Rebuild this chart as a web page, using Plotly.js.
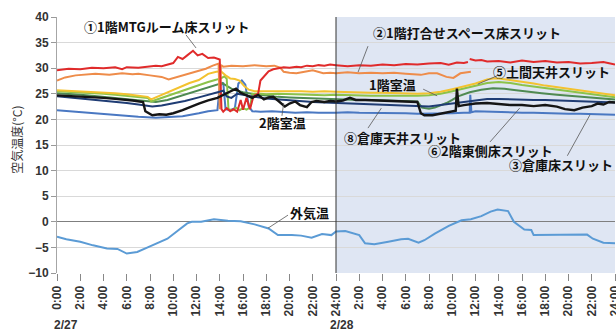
<!DOCTYPE html>
<html>
<head>
<meta charset="utf-8">
<script src="https://cdn.plot.ly/plotly-3.0.1.min.js"></script>
<style>
  html, body { margin: 0; padding: 0; background: #ffffff; }
  #chart { width: 616px; height: 332px; }
</style>
</head>
<body>
<div id="chart"></div>
<script>
// Time axis: hours counted from 2/27 0:00 (0–48 h)
const tickHours = [0,2,4,6,8,10,12,14,16,18,20,22,24,26,28,30,32,34,36,38,40,42,44,46,48];
const tickLabels = ['0:00','2:00','4:00','6:00','8:00','10:00','12:00','14:00','16:00','18:00','20:00','22:00','24:00',
                    '2:00','4:00','6:00','8:00','10:00','12:00','14:00','16:00','18:00','20:00','22:00','24:00'];
const dayLabels = ['2/27', '2/28'];

// ① 1階MTGルーム床スリット
const redHours = [0,1,2,3,4,5,5.6,6,7,8,8.5,9,9.5,10,10.4,10.8,11.2,11.7,12.1,12.5,13,13.5,14,14.15,14.3,14.6,14.9,15.2,15.5,15.8,16,16.3,16.6,16.9,17.1,17.3,17.5,17.8,18.2,18.6,19,19.5,20,20.6,21,21.5,22,22.5,23,23.5,24,25,26,27,28,29,30,31,32,33,33.7,34.4,35,35.35,35.42,35.5,36,36.5,37,38,39,40,41,42,43,44,45,46,47,48];
const redTemps = [29.6,29.9,29.8,30.1,30.0,30.2,29.8,30.2,30.1,30.3,30.5,30.4,30.7,31.0,32.2,31.8,32.5,33.4,32.5,32.8,32.0,32.1,31.7,22.0,21.5,22.2,21.6,22.0,21.5,23.8,21.9,24.2,22.0,24.5,24.8,25.0,27.6,28.3,29.4,29.8,30.0,30.2,30.1,30.3,30.2,30.5,30.4,30.6,30.5,30.7,30.6,30.4,30.6,30.5,30.7,30.6,30.8,30.7,30.9,31.0,30.7,31.1,31.0,31.2,null,31.8,31.5,31.6,31.3,31.4,31.1,31.5,31.2,31.4,31.1,31.2,30.9,31.0,31.2,30.7];

// ② 1階打合せスペース床スリット
const orangeHours = [0,0.7,1.6,2.5,3.3,4.5,5.6,6.5,7,8,8.5,9,9.6,10.5,11.4,12.2,12.8,13.4,13.9,14.0,14.1,14.3,15,16,17,18,18.7,19.2,19.5,20,20.6,21.3,22,22.9,23.5,24,25,26,27,28,29,30,31.3,32,32.7,33.5,34.1,34.7,35.2,35.6];
const orangeTemps = [27.6,28.2,28.6,28.8,28.9,28.7,29.0,28.8,28.9,28.6,28.4,28.3,27.8,28.4,28.9,29.5,29.9,30.5,30.9,22.0,30.6,30.3,30.5,30.4,30.6,30.4,30.5,30.1,29.3,29.1,29.0,29.3,29.6,29.0,29.1,29.0,29.2,29.0,29.1,29.0,29.1,28.9,28.7,29.0,29.0,28.3,28.1,29.0,29.2,29.3];

// ⑤ 土間天井スリット
const yellowHours = [0,1,2,3,4,5,6,7,7.8,8.1,8.5,9,9.5,10,10.5,11,11.4,12.2,12.6,13,13.7,14.1,14.5,14.9,15.3,15.7,16.1,16.5,17,18,19,20,21,22,23,24,25,26,27,28,29,30,31,32,33,34,35,36,37,37.5,38,39,40,41,42,43,44,45,46,47,48];
const yellowTemps = [25.7,25.6,25.5,25.4,25.2,25.1,24.9,24.6,24.4,23.9,24.3,24.8,25.3,25.7,26.2,26.7,27.1,27.7,28.3,28.9,29.3,29.4,28.6,28.0,27.9,27.6,26.5,25.8,25.5,25.5,25.6,25.5,25.5,25.4,25.5,25.4,25.3,25.3,25.2,25.2,25.1,25.0,25.0,25.1,25.4,25.9,26.4,27.0,27.8,28.0,28.0,27.7,27.4,27.0,26.6,26.3,26.0,25.7,25.4,25.0,24.7];

// 1階室温
const lightGreenHours = [0,1,2,3,4,5,6,7,7.8,8.1,8.6,9.4,10,10.8,11.5,12.2,13,13.6,14.1,14.4,14.6,14.75,15.1,15.4,15.7,16,16.3,16.6,16.8,17.5,18,19,20,21,22,23,24,25,26,27,28,29,30,31,32,33,34,35,36,37,38,39,40,41,42,43,44,45,46,47,48];
const lightGreenTemps = [25.5,25.4,25.3,25.1,25.0,24.8,24.6,24.4,24.2,23.5,23.9,24.4,24.9,25.6,26.1,26.7,27.3,27.7,28.0,28.4,27.9,22.0,21.8,22.3,21.8,22.2,21.9,22.3,25.0,25.0,24.9,25.0,24.9,24.8,24.8,24.7,24.8,24.7,24.7,24.6,24.6,24.6,24.5,24.6,24.7,25.0,25.5,26.0,26.5,27.1,27.3,27.1,26.7,26.4,26.0,25.7,25.4,25.1,24.8,24.5,24.3];

// ⑥ 2階東側床スリット
const darkGreenHours = [0,1,2,3,4,5,6,7,7.9,8.5,9.5,10.5,11.5,12.5,13.5,14.2,14.5,15,15.5,16,17,18,19,20,21,22,23,24,25,26,27,28,29,30,31,31.4,32,32.5,33,33.5,34,34.5,35.5,36.5,37.5,38.5,39.5,40.5,41.7,43,44.5,46,47,48];
const darkGreenTemps = [25.1,25.0,24.8,24.6,24.4,24.2,24.0,23.8,23.5,23.4,23.8,24.5,25.2,25.9,26.5,27.1,26.7,26.0,25.6,25.3,24.9,24.6,24.4,24.3,24.2,24.1,24.0,24.0,23.9,23.8,23.8,23.7,23.7,23.6,23.5,22.3,22.1,22.3,22.7,23.2,23.8,24.5,25.3,25.8,26.1,26.0,25.7,25.4,25.1,24.8,24.5,24.2,24.0,23.9];

// ⑧ 倉庫天井スリット
const navyHours = [0,1,2,3,4,5,6,7,8.2,9,10,11,12.2,13,14,14.3,14.6,15,15.5,16,16.5,17,18,19,20,21,22,23,24,25,26,27,28,29,30,31,32,33,34,35,36,37,38,39,40,41,42,43,44,45,46,47,48];
const navyTemps = [24.5,24.3,24.1,23.9,23.7,23.5,23.2,22.9,22.5,22.7,23.1,23.6,24.3,24.8,25.3,25.6,24.5,24.2,25.0,24.8,24.5,24.4,24.1,23.9,23.7,23.5,23.4,23.3,23.2,23.1,23.0,22.9,22.8,22.8,22.7,22.6,22.5,22.8,23.1,23.5,23.8,24.0,24.0,23.9,23.9,23.8,23.8,23.7,23.6,23.5,23.4,23.4,23.3];

// 2階室温
const blackHours = [0,1,2,2.7,4,5,5.6,6.5,7.4,7.6,8.2,8.8,9.4,10,10.8,11.3,12.2,13,13.8,14.5,15,15.4,15.8,16.3,16.8,17.3,17.8,18.2,18.6,19.1,19.6,20,20.5,20.9,21.5,21.9,22.3,23,23.5,24,24.6,25.2,25.7,26.5,27.5,28.5,29.5,30.5,31,31.3,31.6,32.3,33,33.9,34.3,34.4,34.55,35,36,37,38,39,40,41,42,43,43.7,44.5,45.2,46,46.5,47,47.5,48];
const blackTemps = [24.7,24.6,24.5,24.4,24.2,24.0,23.9,23.7,23.4,21.6,20.8,21.0,20.9,21.2,21.8,22.3,23.1,23.7,24.2,25.0,25.5,26.0,25.2,24.7,24.2,24.8,23.9,24.3,24.4,23.5,22.5,23.1,23.5,22.8,22.4,23.4,23.6,23.4,23.6,23.5,23.7,24.2,23.8,23.8,23.7,23.6,23.6,23.5,23.4,21.2,20.8,20.8,21.1,21.5,21.7,26.0,22.6,22.8,23.1,23.2,23.0,22.8,22.8,22.6,22.8,22.5,22.0,21.8,22.3,22.6,23.1,22.9,23.4,23.3];

// ③ 倉庫床スリット
const blueHours = [0,1,2,3,4,5,6,7,8.5,9.5,10.8,12.2,13,13.8,14,14.3,14.5,14.9,15.3,15.6,15.9,16.2,16.5,16.8,17.5,18.5,19.5,20.5,21.5,22.5,24,25,26,27,28,29,30,31,32,33,34,35,35.5,35.55,35.65,36,37,38,39,40,41,42,43,44,45,46,47,48];
const blueTemps = [21.8,21.6,21.5,21.3,21.1,20.9,20.7,20.5,20.3,20.4,20.6,21.2,21.6,21.8,26.5,27.2,22.0,21.8,22.2,27.0,27.6,26.8,22.5,21.6,21.5,21.6,21.4,21.3,21.4,21.3,21.3,21.4,21.3,21.3,21.2,21.2,21.2,21.1,21.1,21.1,21.2,21.3,21.3,24.8,21.4,21.6,21.5,21.4,21.4,21.3,21.3,21.2,21.2,21.1,21.1,21.0,21.0,20.9];

// 外気温
const outdoorHours = [0,0.8,2,3.1,4.3,5.2,6.0,6.9,7.8,8.6,9.5,10.3,11.2,11.6,12.4,13.5,14.7,15.8,17,18.2,19,20.2,21,21.9,22.8,23.6,24,24.8,26,26.5,27.3,28.5,29.6,30.2,31.1,31.6,32.5,33.7,34.8,35.6,36.5,37.3,37.9,38.8,39.3,40.2,40.8,41,42.5,43.9,45.6,46.1,47,48];
const outdoorTemps = [-2.9,-3.4,-3.9,-4.6,-5.2,-5.3,-6.2,-5.9,-5.0,-4.2,-3.3,-1.9,-0.3,0,0,0.5,0.2,0.1,-0.5,-1.3,-2.6,-2.6,-2.7,-3.1,-2.4,-2.6,-1.9,-1.8,-2.6,-4.2,-4.4,-3.9,-3.4,-3.3,-4.1,-3.6,-2.3,-0.8,0.3,0.5,1.1,2.0,2.4,2.1,0,-1.5,-1.6,-2.6,-2.6,-2.5,-2.5,-3.3,-4.1,-4.2];

// Series drawing order (back to front) and styling
const seriesList = [
  { name: '外気温', x: outdoorHours, y: outdoorTemps, color: '#5b9bd5', width: 2 },
  { name: '③倉庫床スリット', x: blueHours, y: blueTemps, color: '#4a78c2', width: 2 },
  { name: '⑥2階東側床スリット', x: darkGreenHours, y: darkGreenTemps, color: '#4f8a52', width: 2 },
  { name: '1階室温', x: lightGreenHours, y: lightGreenTemps, color: '#8cc34a', width: 2 },
  { name: '⑤土間天井スリット', x: yellowHours, y: yellowTemps, color: '#f3c22f', width: 2 },
  { name: '②1階打合せスペース床スリット', x: orangeHours, y: orangeTemps, color: '#ee8c4a', width: 2 },
  { name: '①1階MTGルーム床スリット', x: redHours, y: redTemps, color: '#e02b2b', width: 2 },
  { name: '⑧倉庫天井スリット', x: navyHours, y: navyTemps, color: '#1f3c74', width: 2 },
  { name: '2階室温', x: blackHours, y: blackTemps, color: '#151515', width: 2.4 }
];

const traces = seriesList.map(s => ({
  type: 'scatter', mode: 'lines', name: s.name,
  x: s.x, y: s.y, connectgaps: false,
  line: { color: s.color, width: s.width, shape: 'linear' },
  hoverinfo: 'skip'
}));

// Callout labels: text centre and leader line (from, to) in axis units
const callouts = [
  { text: '①1階MTGルーム床スリット', at: [9.46, 38.05], from: [11.1, 36.5], to: [11.96, 33.95] },
  { text: '②1階打合せスペース床スリット', at: [35.27, 36.88], from: [26.75, 34.3], to: [25.9, 29.25] },
  { text: '1階室温', at: [28.9, 26.9], from: [31.5, 25.9], to: [32.7, 24.6] },
  { text: '⑤土間天井スリット', at: [42.5, 29.26], from: [37.85, 28.5], to: [36.2, 26.9] },
  { text: '2階室温', at: [19.44, 19.3], from: [19.35, 20.7], to: [19.5, 23.2] },
  { text: '⑧倉庫天井スリット', at: [29.68, 16.56], from: [26.75, 18.3], to: [27.9, 22.2] },
  { text: '⑥2階東側床スリット', at: [37.25, 14.0], from: [37.25, 15.6], to: [39.8, 22.2] },
  { text: '③倉庫床スリット', at: [43.35, 11.1], from: [43.9, 12.9], to: [45.85, 20.9] },
  { text: '外気温', at: [21.76, 1.72], from: [19.87, 1.3], to: [18.15, -1.25] }
];

const labelFont = { family: '"Noto Sans CJK JP", "Noto Sans", sans-serif', size: 13, color: '#111111', weight: 'bold' };
const tickFont = { family: '"Liberation Sans", Arial, sans-serif', size: 12, color: '#333333', weight: 'bold' };

const annotations = callouts.map(c => ({
  text: c.text, x: c.at[0], y: c.at[1], xref: 'x', yref: 'y',
  xanchor: 'center', yanchor: 'middle', showarrow: false, font: labelFont
}));

annotations.push(
  { text: dayLabels[0], x: -0.009, y: -0.203, xref: 'paper', yref: 'paper', xanchor: 'left', yanchor: 'middle',
    showarrow: false, font: tickFont },
  { text: dayLabels[1], x: 0.486, y: -0.203, xref: 'paper', yref: 'paper', xanchor: 'left', yanchor: 'middle',
    showarrow: false, font: tickFont },
  { text: '空気温度(°C)', x: -0.072, y: 0.52, xref: 'paper', yref: 'paper', xanchor: 'center', yanchor: 'middle',
    textangle: -90, showarrow: false,
    font: { family: '"Noto Sans CJK JP", sans-serif', size: 12, color: '#333333' } }
);

const shapes = [
  // shaded second day
  { type: 'rect', xref: 'x', yref: 'y', x0: 24, x1: 48, y0: -10, y1: 40.4,
    fillcolor: '#dfe6f3', line: { width: 0 }, layer: 'below' },
  // day divider
  { type: 'line', xref: 'x', yref: 'y', x0: 24, x1: 24, y0: -10, y1: 40.4,
    line: { color: '#333333', width: 1 }, layer: 'above' }
];
callouts.forEach(c => shapes.push({
  type: 'line', xref: 'x', yref: 'y', x0: c.from[0], y0: c.from[1], x1: c.to[0], y1: c.to[1],
  line: { color: '#555555', width: 0.8 }, layer: 'above'
}));

const layout = {
  width: 616, height: 332,
  margin: { l: 57, r: 1, t: 17, b: 59, pad: 0 },
  paper_bgcolor: '#ffffff', plot_bgcolor: '#ffffff',
  showlegend: false, hovermode: false,
  xaxis: {
    range: [0, 48], tickmode: 'array', tickvals: tickHours, ticktext: tickLabels,
    tickangle: -90, tickfont: tickFont, ticks: 'outside', ticklen: 7, tickcolor: '#888888', tickwidth: 1,
    ticklabeloverflow: 'allow',
    showgrid: false, zeroline: false, showline: false, fixedrange: true
  },
  yaxis: {
    range: [-10, 40], tickmode: 'array', tickvals: [-10,-5,0,5,10,15,20,25,30,35,40],
    tickfont: tickFont, ticks: 'outside', ticklen: 5, tickcolor: '#999999',
    showgrid: true, gridcolor: '#d9d9d9', gridwidth: 1,
    zeroline: true, zerolinecolor: '#7f7f7f', zerolinewidth: 1,
    showline: true, linecolor: '#a6a6a6', linewidth: 1, fixedrange: true
  },
  annotations: annotations,
  shapes: shapes
};

Plotly.newPlot('chart', traces, layout, { staticPlot: true, displayModeBar: false });
</script>
</body>
</html>
